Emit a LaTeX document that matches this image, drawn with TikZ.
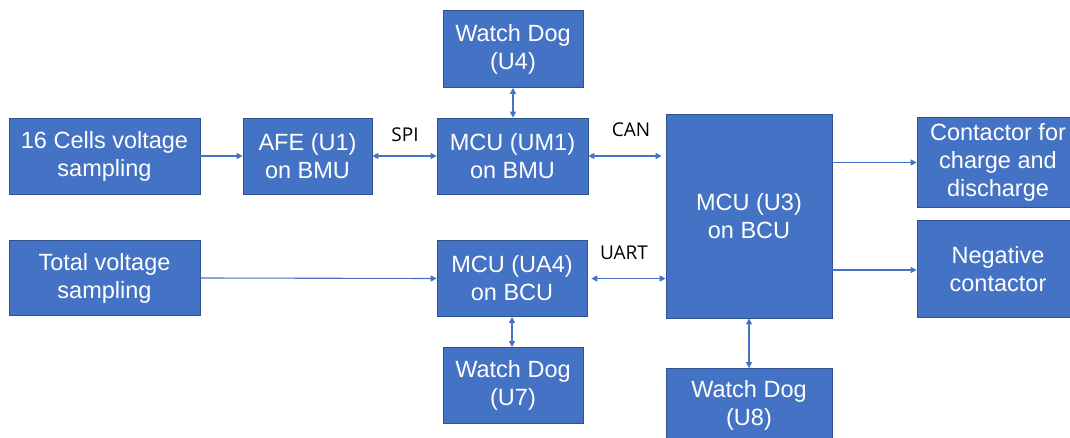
\documentclass[tikz,border=0pt]{standalone}
\usepackage{fontspec}
\setmainfont{Liberation Sans}
\newfontfamily\lblfont{Open Sans}
\usetikzlibrary{arrows.meta}
\definecolor{boxblue}{HTML}{4472C4}
\definecolor{boxedge}{HTML}{2F528F}
\begin{document}
\begin{tikzpicture}[x=1pt,y=-1pt,
  blk/.style={rectangle,fill=boxblue,draw=boxedge,line width=0.7pt,text=white,align=center,inner sep=0pt,
    font=\fontsize{23.5}{28}\selectfont},
  conn/.style={draw=boxblue,line width=1.1pt,-{Triangle[length=6pt,width=6pt]}},
  biconn/.style={draw=boxblue,line width=1.1pt,{Triangle[length=6pt,width=6pt]}-{Triangle[length=6pt,width=6pt]}},
  lbl/.style={font=\lblfont\fontsize{19}{22}\selectfont,inner sep=0pt,text=black}]
\useasboundingbox (0,0) rectangle (1070,438);
\begin{scope}
\clip (0,0) rectangle (1070,438);
\node[blk,minimum width=191pt,minimum height=76pt] (cells) at (104.5,156) {16 Cells voltage\\sampling};
\node[blk,minimum width=129pt,minimum height=76pt] (afe) at (307.5,156) {AFE (U1)\\on BMU};
\node[blk,minimum width=151pt,minimum height=76pt] (um1) at (512.5,156) {MCU (UM1)\\on BMU};
\node[blk,minimum width=140pt,minimum height=77pt] (u4) at (513,49) {Watch Dog\\(U4)};
\node[blk,minimum width=191pt,minimum height=75pt] (total) at (104.5,278) {Total voltage\\sampling};
\node[blk,minimum width=150pt,minimum height=76pt] (ua4) at (512,278.5) {MCU (UA4)\\on BCU};
\node[blk,minimum width=140pt,minimum height=76pt] (u7) at (513,385.5) {Watch Dog\\(U7)};
\node[blk,minimum width=166pt,minimum height=204pt] (u3) at (749,216) {MCU (U3)\\on BCU};
\node[blk,minimum width=162pt,minimum height=90pt] (cont) at (998,162.5) {Contactor for\\charge and\\discharge};
\node[blk,minimum width=162pt,minimum height=97pt] (neg) at (998,269) {Negative\\contactor};
\node[blk,minimum width=166pt,minimum height=74pt] (u8) at (749,405.5) {Watch Dog\\(U8)};
\end{scope}
\node[lbl] (spi) at (405,135) {SPI};
\node[lbl] (can) at (631,130) {CAN};
\node[lbl] (uart) at (624,253) {UART};
\draw[conn] (cells.east) -- (afe.west);
\draw[biconn] (afe.east) -- (um1.west);
\draw[biconn,shorten >=4pt] (um1.east) -- (um1.east -| u3.west);
\draw[conn] (total.east) -- (ua4.west);
\draw[biconn,shorten <=4pt] (ua4.east) -- (ua4.east -| u3.west);
\draw[biconn] (u4.south) -- (um1.north -| u4.south);
\draw[biconn] (ua4.south) -- (u7.north -| ua4.south);
\draw[biconn] (u3.south) -- (u8.north);
\draw[conn] (u3.east |- cont.west) -- (cont.west);
\draw[conn] (u3.east |- 0,270) coordinate (n0) -- (n0 -| neg.west);
\end{tikzpicture}
\end{document}
